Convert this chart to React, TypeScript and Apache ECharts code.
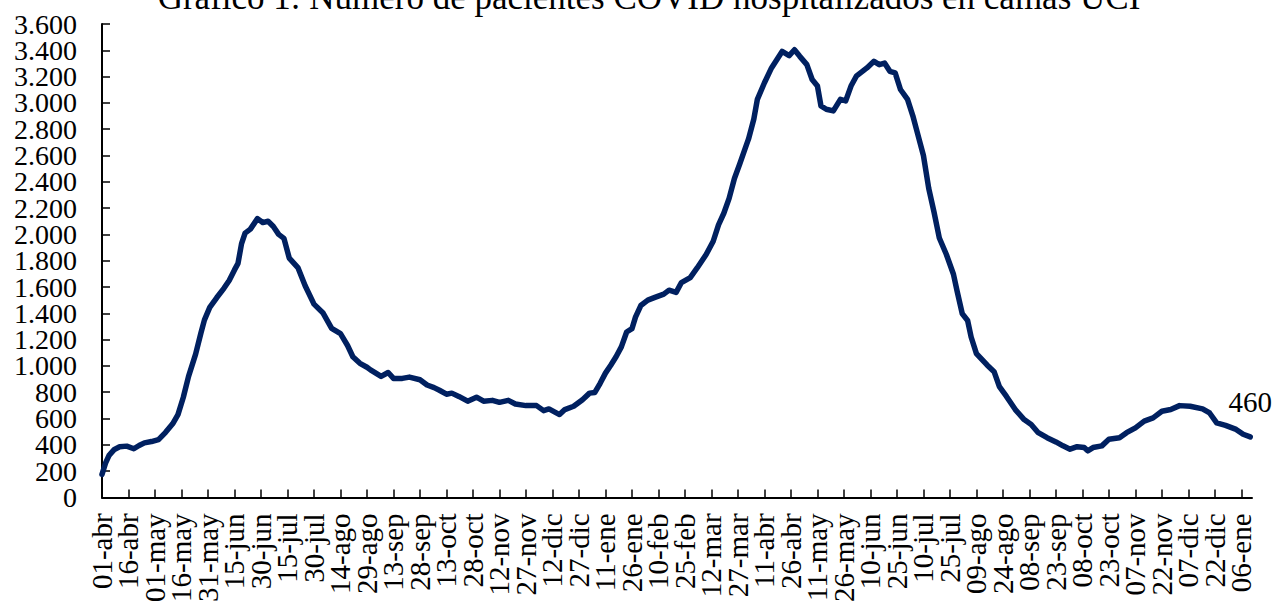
import React, { useEffect, useRef } from "react";
import * as echarts from "echarts";

const TITLE = "Gráfico 1: Número de pacientes COVID hospitalizados en camas UCI";
const START_DATE = "2020-04-01";
const DAY_COUNT = 652;
const LABEL_STEP = 15;
const MONTHS = ["ene", "feb", "mar", "abr", "may", "jun", "jul", "ago", "sep", "oct", "nov", "dic"];
const Y_TICKS = [0, 200, 400, 600, 800, 1000, 1200, 1400, 1600, 1800, 2000, 2200, 2400, 2600, 2800, 3000, 3200, 3400, 3600];
const LAST_LABEL = "460";

// day offsets from 01-abr-2020 and patients
const sampleDays = [
  0, 2, 4, 7, 10, 14, 18, 21, 24, 28, 32, 36, 40, 43, 46, 49, 53, 56, 58, 61, 65, 69, 72, 75, 77, 79, 81, 84, 88, 91,
  94, 97, 100, 103, 106, 111, 115, 120, 125, 130, 135, 139, 142, 146, 150, 152, 158, 162, 165, 170, 174, 180, 184, 188,
  191, 195, 198, 202, 207, 212, 216, 221, 225, 230, 234, 240, 246, 250, 253, 259, 262, 267, 272, 276, 279, 282, 285,
  288, 291, 294, 297, 300, 302, 305, 309, 313, 318, 321, 325, 328, 333, 337, 342, 346, 349, 352, 355, 358, 361, 364,
  366, 369, 371, 375, 379, 385, 389, 392, 395, 399, 402, 405, 407, 410, 414, 418, 421, 424, 427, 433, 437, 440, 443,
  446, 449, 452, 456, 459, 462, 465, 468, 471, 474, 478, 482, 484, 487, 490, 492, 495, 501, 505, 508, 512, 517, 522,
  526, 530, 535, 540, 544, 548, 552, 556, 558, 561, 566, 570, 576, 580, 585, 590, 595, 600, 605, 610, 616, 623, 627,
  631, 636, 642, 646, 650,
];
const sampleValues = [
  175, 260, 320, 365, 385, 390, 370, 395, 415, 425, 440, 495, 560, 630, 760, 920, 1090, 1250, 1350, 1445, 1520, 1590,
  1650, 1730, 1780, 1930, 2010, 2040, 2120, 2090, 2100, 2060, 2000, 1970, 1820, 1745, 1610, 1470, 1405, 1285, 1245,
  1155, 1070, 1020, 990, 970, 920, 950, 905, 905, 915, 895, 855, 835, 815, 785, 793, 768, 732, 762, 732, 738, 723, 738,
  710, 698, 698, 660, 673, 630, 668, 693, 743, 793, 798, 868, 945, 1005, 1069, 1145, 1258, 1283, 1371, 1459, 1500,
  1521, 1546, 1576, 1559, 1634, 1672, 1747, 1847, 1948, 2073, 2161, 2274, 2425, 2535, 2651, 2726, 2877, 3027, 3153,
  3266, 3391, 3359, 3404, 3354, 3291, 3178, 3128, 2977, 2952, 2939, 3027, 3015, 3128, 3203, 3266, 3316, 3291, 3303,
  3240, 3228, 3102, 3027, 2902, 2751, 2600, 2350, 2170, 1973, 1847, 1697, 1572, 1396, 1346, 1220, 1094, 1007, 956,
  843, 768, 668, 592, 555, 492, 454, 422, 392, 367, 386, 379, 354, 379, 392, 442, 454, 492, 529, 580, 605, 655, 668,
  698, 693, 673, 642, 567, 548, 517, 480, 460,
];

const FONT = "'Liberation Serif', 'Times New Roman', serif";

function buildCategories(): string[] {
  const start = new Date(START_DATE + "T00:00:00Z").getTime();
  const out: string[] = [];
  for (let i = 0; i < DAY_COUNT; i++) {
    const d = new Date(start + i * 86400000);
    const dd = String(d.getUTCDate()).padStart(2, "0");
    out.push(dd + "-" + MONTHS[d.getUTCMonth()]);
  }
  return out;
}

function fmtThousands(v: number): string {
  return String(v).replace(/\B(?=(\d{3})+(?!\d))/g, ".");
}

export default function App() {
  const ref = useRef<HTMLDivElement>(null);
  useEffect(() => {
    if (!ref.current) return;
    const chart = echarts.init(ref.current, undefined, { renderer: "svg" });
    const categories = buildCategories();
    const last = sampleDays.length - 1;
    const data = sampleDays.map((d, i) => [d, sampleValues[i]]);
    const onStep = (idx: number) => idx % LABEL_STEP === 0;
    const titleGraphic = {
      type: "text",
      id: "title",
      x: 649,
      y: -3,
      style: {
        text: TITLE,
        fontFamily: FONT,
        fontSize: 35,
        fill: "#000",
        align: "center",
        verticalAlign: "middle",
      },
    };
    chart.setOption({
      animation: false,
      backgroundColor: "#fff",
      grid: { left: 102, right: 24, top: 24, bottom: 103, containLabel: false },
      graphic: [titleGraphic],
      xAxis: {
        type: "category",
        data: categories,
        boundaryGap: false,
        axisLine: { lineStyle: { color: "#000", width: 2 } },
        axisTick: { inside: true, length: 8, interval: onStep, lineStyle: { color: "#000", width: 1.5 } },
        axisLabel: {
          interval: 0,
          formatter: (value: string, index: number) => (onStep(index) ? value : ""),
          rotate: 90,
          margin: 16,
          fontFamily: FONT,
          fontSize: 29,
          color: "#000",
        },
        splitLine: { show: false },
      },
      yAxis: {
        type: "value",
        min: Y_TICKS[0],
        max: Y_TICKS[Y_TICKS.length - 1],
        interval: Y_TICKS[1] - Y_TICKS[0],
        axisLine: { show: true, lineStyle: { color: "#000", width: 2 } },
        axisTick: { show: true, inside: true, length: 8, lineStyle: { color: "#000", width: 1.5 } },
        axisLabel: { show: false },
        splitLine: { show: false },
      },
      series: [
        {
          type: "line",
          data,
          showSymbol: false,
          symbol: "none",
          lineStyle: { color: "#002060", width: 5.5, cap: "round", join: "round" },
          markPoint: {
            symbol: "circle",
            symbolSize: 0,
            data: [
              {
                coord: [sampleDays[last], sampleValues[last]],
                label: {
                  show: true,
                  position: "top",
                  distance: 20,
                  formatter: LAST_LABEL,
                  fontFamily: FONT,
                  fontSize: 29,
                  color: "#000",
                },
              },
            ],
          },
        },
      ],
    });
    // y tick labels placed through the value axis' own scale
    const axisX = chart.convertToPixel({ xAxisIndex: 0 }, 0) as number;
    const yLabels = Y_TICKS.map((v, i) => ({
      type: "text",
      id: "ylab" + i,
      x: axisX - 25,
      y: chart.convertToPixel({ yAxisIndex: 0 }, v) as number,
      style: {
        text: fmtThousands(v),
        fontFamily: FONT,
        fontSize: 28,
        fill: "#000",
        align: "right",
        verticalAlign: "middle",
      },
    }));
    chart.setOption({ graphic: [titleGraphic, ...yLabels] });
    return () => chart.dispose();
  }, []);
  return <div ref={ref} style={{ position: "absolute", left: 0, top: 0, width: 1276, height: 605 }} />;
}
